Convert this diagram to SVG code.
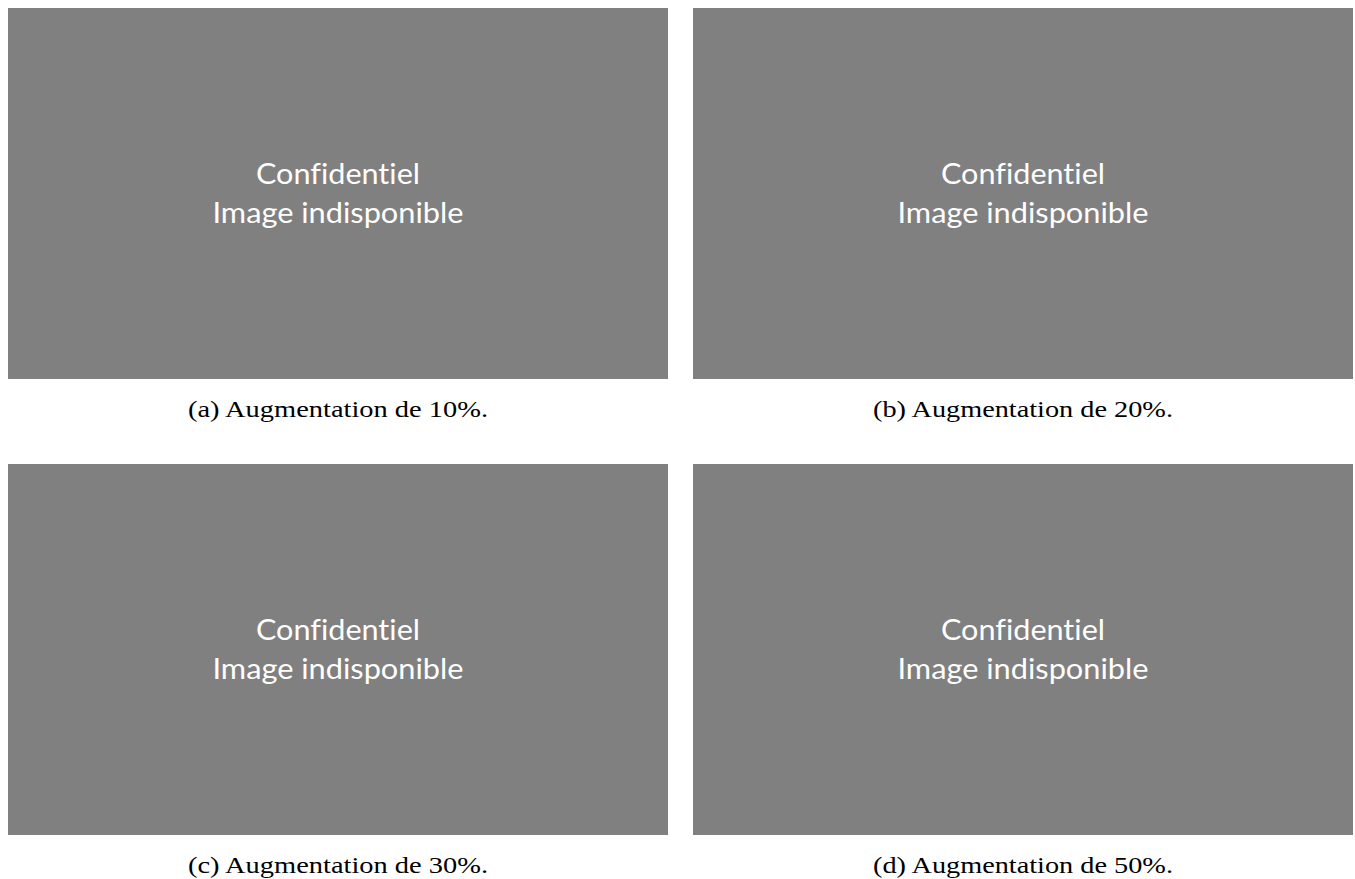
<svg xmlns="http://www.w3.org/2000/svg" width="1355" height="879" viewBox="0 0 1355 879">
<style>
.panel{fill:#808080}
.ph{font-family:Lato,"Open Sans","Liberation Sans",sans-serif;font-size:29px;fill:#ffffff;text-anchor:middle;font-variant-ligatures:none}
.cap{font-family:"Liberation Serif",serif;font-size:23px;fill:#000000;text-anchor:middle}
</style>
<rect width="1355" height="879" fill="#ffffff"/>
<g id="panel-a">
<rect class="panel" x="8" y="8" width="660" height="371"/>
<text class="ph" x="338" y="184" textLength="164" lengthAdjust="spacingAndGlyphs">Confidentiel</text>
<text class="ph" x="338" y="223" textLength="251" lengthAdjust="spacingAndGlyphs">Image indisponible</text>
<text class="cap" x="338" y="417" textLength="300" lengthAdjust="spacingAndGlyphs">(a) Augmentation de 10%.</text>
</g>
<g id="panel-b">
<rect class="panel" x="693" y="8" width="660" height="371"/>
<text class="ph" x="1023" y="184" textLength="164" lengthAdjust="spacingAndGlyphs">Confidentiel</text>
<text class="ph" x="1023" y="223" textLength="251" lengthAdjust="spacingAndGlyphs">Image indisponible</text>
<text class="cap" x="1023" y="417" textLength="300" lengthAdjust="spacingAndGlyphs">(b) Augmentation de 20%.</text>
</g>
<g id="panel-c">
<rect class="panel" x="8" y="464" width="660" height="371"/>
<text class="ph" x="338" y="640" textLength="164" lengthAdjust="spacingAndGlyphs">Confidentiel</text>
<text class="ph" x="338" y="679" textLength="251" lengthAdjust="spacingAndGlyphs">Image indisponible</text>
<text class="cap" x="338" y="873" textLength="300" lengthAdjust="spacingAndGlyphs">(c) Augmentation de 30%.</text>
</g>
<g id="panel-d">
<rect class="panel" x="693" y="464" width="660" height="371"/>
<text class="ph" x="1023" y="640" textLength="164" lengthAdjust="spacingAndGlyphs">Confidentiel</text>
<text class="ph" x="1023" y="679" textLength="251" lengthAdjust="spacingAndGlyphs">Image indisponible</text>
<text class="cap" x="1023" y="873" textLength="300" lengthAdjust="spacingAndGlyphs">(d) Augmentation de 50%.</text>
</g>
<g id="connectors"></g>
</svg>
